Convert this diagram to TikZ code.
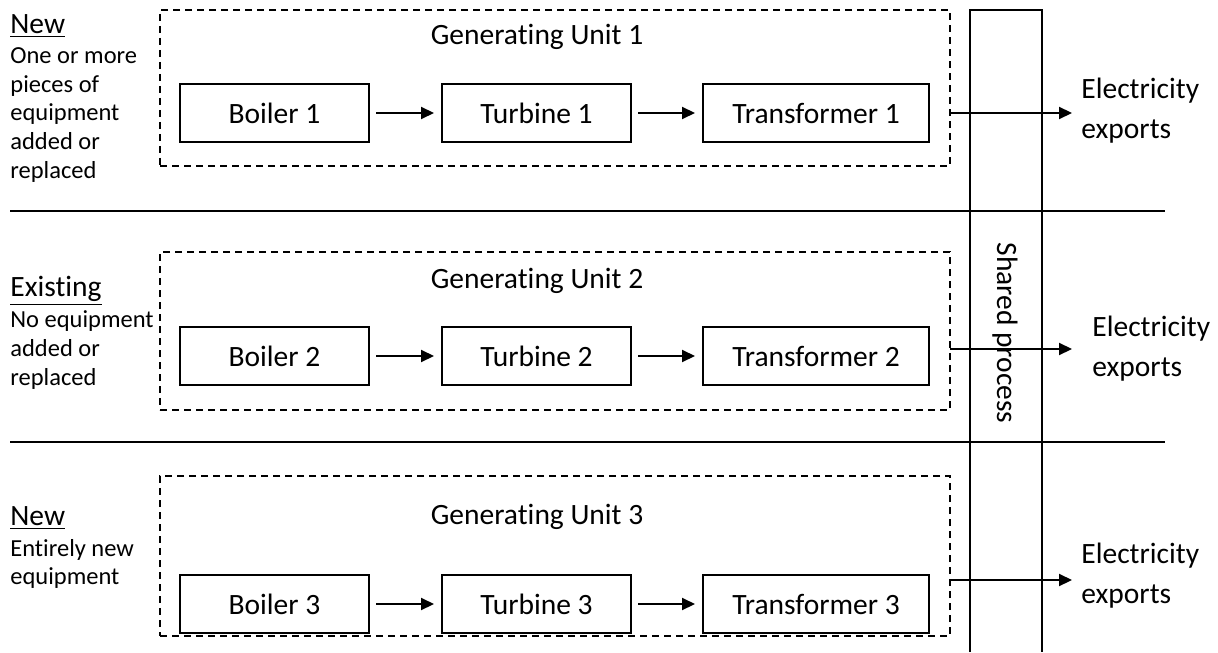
\documentclass[tikz,border=0pt]{standalone}
\usepackage{fontspec}
\setmainfont{Carlito}[Ligatures=NoCommon]
\usetikzlibrary{arrows.meta}
\newcommand{\unitname}[1]{Generat\kern0pt ing Unit #1}

\begin{document}
\begin{tikzpicture}[x=0.5pt,y=-0.5pt,
    equip/.style={draw,line width=1pt,inner sep=0pt,minimum width=94.5pt,minimum height=29pt,font=\fontsize{14.75}{18}\selectfont},
    unitbox/.style={draw,line width=0.75pt,dash pattern=on 3.5pt off 2.5pt,inner sep=0pt,minimum width=395pt},
    bigtext/.style={inner sep=0pt,font=\fontsize{14.75}{20}\selectfont},
    smalltext/.style={inner sep=0pt,align=left,anchor=west,font=\fontsize{12.25}{14.3}\selectfont},
    flow/.style={line width=1pt,-{Triangle[length=6.5pt,width=6pt]}},
    rule/.style={line width=1.2pt}]
\useasboundingbox (0,0) rectangle (1218,652);%

% Drawing row separators
\coordinate (sepA1) at (10,211);%
\coordinate (sepA2) at (1165,211);%
\coordinate (sepB1) at (10,442);%
\coordinate (sepB2) at (1165,442);%
\draw [rule] (sepA1) -- (sepA2);%
\draw [rule] (sepB1) -- (sepB2);%

% Drawing shared process column
\draw [line width=1pt] (970,652) |- (1042,10) -- (1042,652);%
\node [bigtext,rotate=-90] (shared) at (1005,333) {Shared process};%

% Marking row 1 status
\node [bigtext,anchor=west] (status1) at (10,26) {\underline{New}};%
\node [smalltext] (note1) at (10,115) {One or more\\pieces of\\equipment\\added or\\replaced};%

% Drawing generating unit 1
\node [unitbox,minimum height=78pt] (unit1) at (555,88) {};%
\node [bigtext] (title1) at (537,37) {\unitname{1}};%
\node [equip] (boiler1) at (274.5,113) {Boiler 1};%
\node [equip] (turbine1) at (536.5,113) {Turbine 1};%
\node [equip,minimum width=113pt] (transformer1) at (816,113) {Transformer 1};%
\draw [flow] ([xshift=3pt]boiler1.east) -- ([xshift=-3.5pt]turbine1.west);%
\draw [flow] ([xshift=3pt]turbine1.east) -- ([xshift=-3.5pt]transformer1.west);%
\coordinate (feed1) at (950,113);%
\coordinate (tip1) at (1072,113);%
\draw [flow] (feed1) -- (tip1);%
\node [bigtext,anchor=west,align=left] (export1) at (1081,111) {Electricity\\exports};%

% Marking row 2 status
\node [bigtext,anchor=west] (status2) at (10,291) {\underline{Existing}};%
\node [smalltext] (note2) at (10,350) {No equipment\\added or\\replaced};%

% Drawing generating unit 2
\node [unitbox,minimum height=79pt] (unit2) at (555,331) {};%
\node [bigtext] (title2) at (537,281) {\unitname{2}};%
\node [equip] (boiler2) at (274.5,356) {Boiler 2};%
\node [equip] (turbine2) at (536.5,356) {Turbine 2};%
\node [equip,minimum width=113pt] (transformer2) at (816,356) {Transformer 2};%
\draw [flow] ([xshift=3pt]boiler2.east) -- ([xshift=-3.5pt]turbine2.west);%
\draw [flow] ([xshift=3pt]turbine2.east) -- ([xshift=-3.5pt]transformer2.west);%
\coordinate (feed2) at (950,349);%
\coordinate (tip2) at (1072,349);%
\draw [flow] (feed2) -- (tip2);%
\node [bigtext,anchor=west,align=left] (export2) at (1092,349) {Electricity\\exports};%

% Marking row 3 status
\node [bigtext,anchor=west] (status3) at (10,518) {\underline{New}};%
\node [smalltext] (note3) at (10,564) {Entirely new\\equipment};%

% Drawing generating unit 3
\node [unitbox,minimum height=80pt] (unit3) at (555,556) {};%
\node [bigtext] (title3) at (537,517) {\unitname{3}};%
\node [equip] (boiler3) at (274.5,604) {Boiler 3};%
\node [equip] (turbine3) at (536.5,604) {Turbine 3};%
\node [equip,minimum width=113pt] (transformer3) at (816,604) {Transformer 3};%
\draw [flow] ([xshift=3pt]boiler3.east) -- ([xshift=-3.5pt]turbine3.west);%
\draw [flow] ([xshift=3pt]turbine3.east) -- ([xshift=-3.5pt]transformer3.west);%
\coordinate (feed3) at (950,580);%
\coordinate (tip3) at (1072,580);%
\draw [flow] (feed3) -- (tip3);%
\node [bigtext,anchor=west,align=left] (export3) at (1081,576) {Electricity\\exports};%
\end{tikzpicture}
\end{document}
